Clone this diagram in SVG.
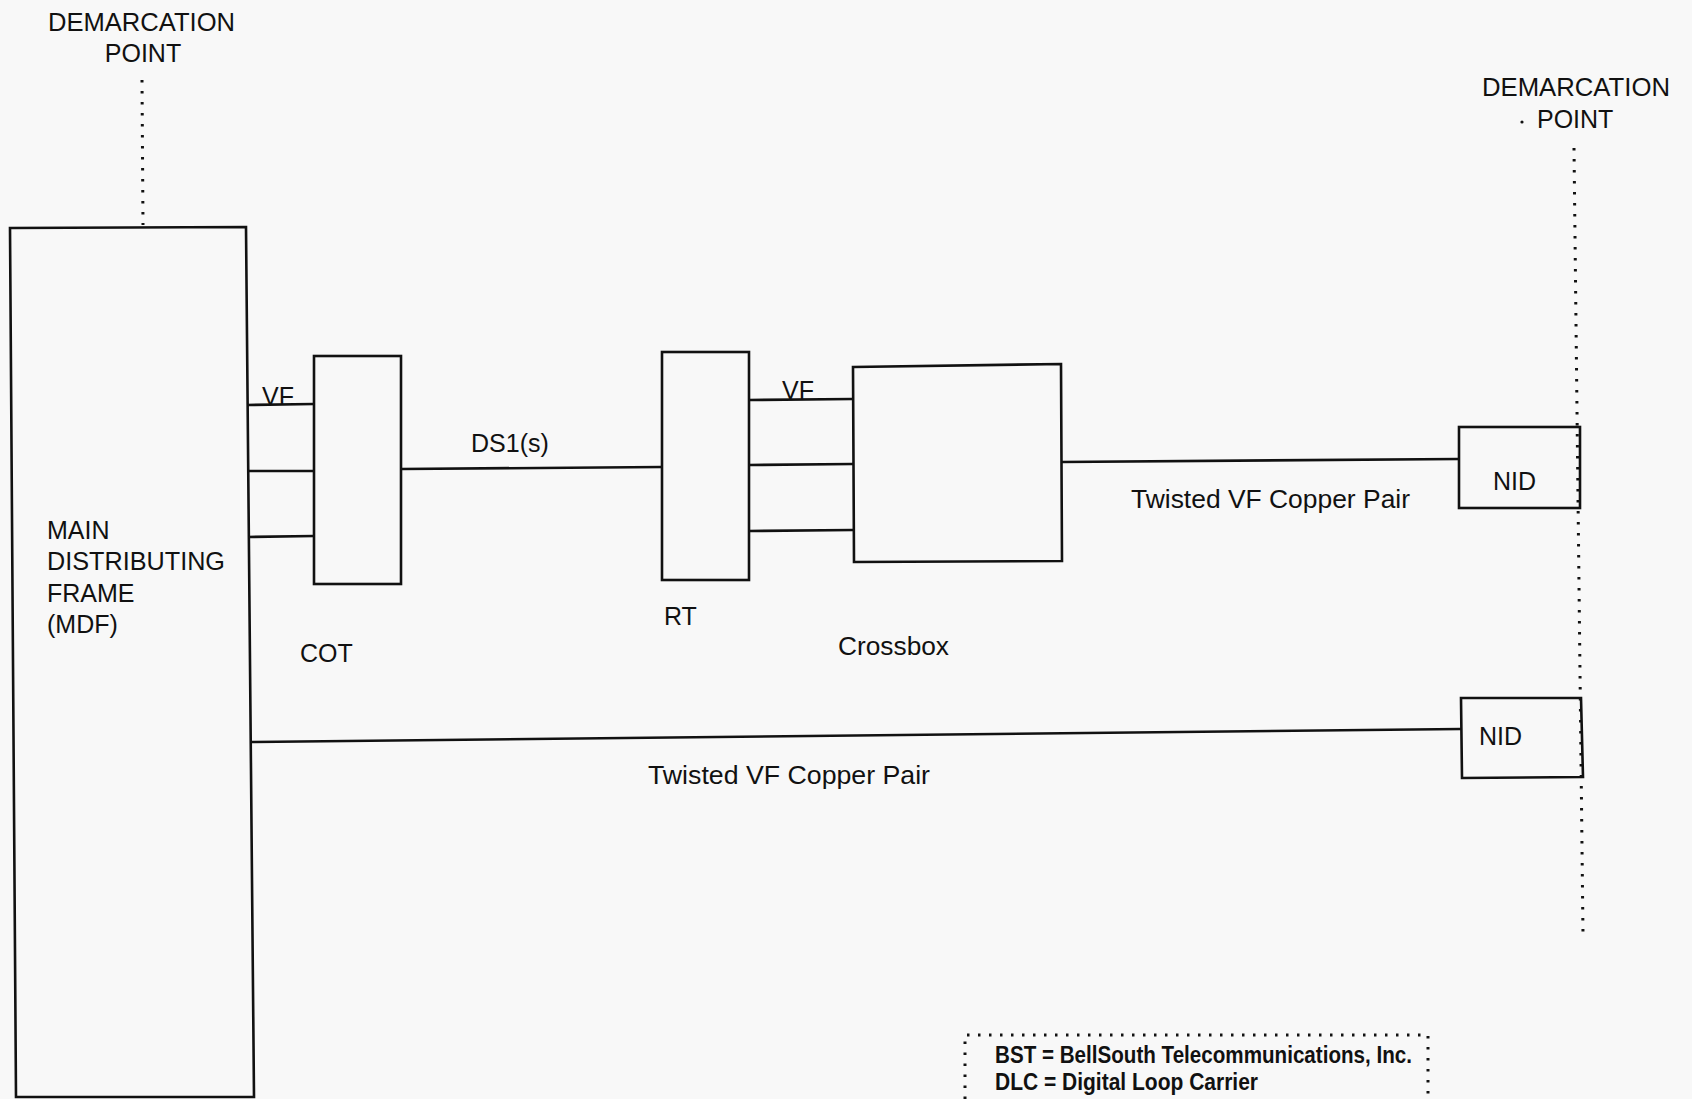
<svg xmlns="http://www.w3.org/2000/svg" width="1692" height="1099" viewBox="0 0 1692 1099">
<style>
.box{fill:none;stroke:#111;stroke-width:2.6;stroke-linejoin:miter}
.ln{fill:none;stroke:#111;stroke-width:2.6}
.dot{fill:none;stroke:#111;stroke-width:3;stroke-dasharray:2.5 8.5;stroke-linecap:butt}
.t{font-family:"Liberation Sans",Arial,sans-serif;font-size:25px;fill:#111}
.tb{font-family:"Liberation Sans",Arial,sans-serif;font-size:23px;font-weight:bold;fill:#111}
</style>
<rect width="1692" height="1099" fill="#f8f8f8"/>

<g id="demarc-left">
<text class="t" x="141.5" y="31" text-anchor="middle" textLength="187" lengthAdjust="spacingAndGlyphs">DEMARCATION</text>
<text class="t" x="143" y="62" text-anchor="middle">POINT</text>
<line class="dot" x1="142" y1="80" x2="143" y2="225"/>
</g>

<g id="demarc-right">
<text class="t" x="1576" y="96" text-anchor="middle" textLength="188" lengthAdjust="spacingAndGlyphs">DEMARCATION</text>
<circle cx="1522" cy="122" r="1.6" fill="#111"/>
<text class="t" x="1537" y="128">POINT</text>
<line class="dot" x1="1574" y1="148" x2="1583" y2="934"/>
</g>

<g id="mdf">
<polygon class="box" points="10,228 246,227 254,1097 16,1097"/>
<text class="t" x="47" y="539">MAIN</text>
<text class="t" x="47" y="570" textLength="178" lengthAdjust="spacingAndGlyphs">DISTRIBUTING</text>
<text class="t" x="47" y="602">FRAME</text>
<text class="t" x="47" y="633">(MDF)</text>
</g>

<g id="cot">
<rect class="box" x="314" y="356" width="87" height="228"/>
<text class="t" x="300" y="662">COT</text>
</g>

<g id="rt">
<rect class="box" x="662" y="352" width="87" height="228"/>
<text class="t" x="664" y="625">RT</text>
</g>

<g id="crossbox">
<polygon class="box" points="853,367 1061,364 1062,561 854,562"/>
<text class="t" x="838" y="655" textLength="111" lengthAdjust="spacingAndGlyphs">Crossbox</text>
</g>

<g id="nid1">
<rect class="box" x="1459" y="427" width="121" height="81"/>
<text class="t" x="1493" y="490">NID</text>
</g>

<g id="nid2">
<polygon class="box" points="1461,698 1581,698 1583,777 1462,778"/>
<text class="t" x="1479" y="745">NID</text>
</g>

<g id="connectors">
<line class="ln" x1="247" y1="405" x2="314" y2="404"/>
<line class="ln" x1="247" y1="471" x2="314" y2="471"/>
<line class="ln" x1="248" y1="537" x2="314" y2="536"/>
<line class="ln" x1="401" y1="469" x2="662" y2="467"/>
<line class="ln" x1="749" y1="400" x2="853" y2="399"/>
<line class="ln" x1="749" y1="465" x2="853" y2="464"/>
<line class="ln" x1="749" y1="531" x2="853" y2="530"/>
<line class="ln" x1="1061" y1="462" x2="1459" y2="459"/>
<line class="ln" x1="250" y1="742" x2="1461" y2="729"/>
<text class="t" x="262" y="405">VF</text>
<text class="t" x="782" y="399">VF</text>
<text class="t" x="471" y="452">DS1(s)</text>
<text class="t" x="1131" y="508" textLength="279" lengthAdjust="spacingAndGlyphs">Twisted VF Copper Pair</text>
<text class="t" x="648" y="784" textLength="282" lengthAdjust="spacingAndGlyphs">Twisted VF Copper Pair</text>
</g>

<g id="legend">
<polyline class="dot" points="965,1110 965,1035 1428,1035 1428,1110"/>
<text class="tb" x="995" y="1063" textLength="417" lengthAdjust="spacingAndGlyphs">BST = BellSouth Telecommunications, Inc.</text>
<text class="tb" x="995" y="1090" textLength="263" lengthAdjust="spacingAndGlyphs">DLC = Digital Loop Carrier</text>
</g>
</svg>
